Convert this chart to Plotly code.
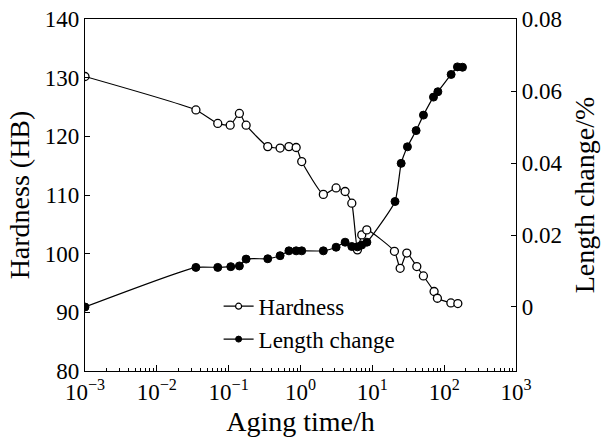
import plotly.graph_objects as go

# Hardness data (open circles)
hard_t = [0.001, 0.035, 0.0705, 0.105, 0.141, 0.175, 0.35, 0.52, 0.69, 0.87, 1.04,
          2.08, 3.13, 4.18, 5.18, 6.2, 7.13, 8.37, 20.3, 24.4, 30.2, 41.6, 51.4,
          72.4, 80.5, 124, 155]
hard_v = [130.2, 124.5, 122.2, 121.9, 123.9, 121.9, 118.25, 118.0, 118.25, 118.1, 115.7,
          110.1, 111.2, 110.6, 108.6, 100.65, 103.2, 104.05, 100.4, 97.5, 100.1, 97.8, 96.2,
          93.55, 92.4, 91.6, 91.5]

# Length change data (filled circles)
len_t = [0.001, 0.035, 0.0705, 0.107, 0.141, 0.175, 0.35, 0.52, 0.69, 0.87, 1.04,
         2.08, 3.13, 4.18, 5.18, 6.2, 7.1, 8.4, 20.7, 25.2, 30.8, 40.7, 51.5,
         71, 81.7, 125, 153, 180]
len_v = [0.0, 0.0110, 0.0110, 0.0112, 0.0114, 0.0133, 0.0134, 0.01425, 0.0156, 0.0156, 0.0156,
         0.0156, 0.0166, 0.0180, 0.0168, 0.0167, 0.0172, 0.0180, 0.0293, 0.0399, 0.0445, 0.0490, 0.0533,
         0.0583, 0.0598, 0.0646, 0.0667, 0.0666]

x_tickvals = [1e-3, 1e-2, 1e-1, 1e0, 1e1, 1e2, 1e3]
x_ticktext = ["10<sup>−3</sup>", "10<sup>−2</sup>", "10<sup>−1</sup>", "10<sup>0</sup>",
              "10<sup>1</sup>", "10<sup>2</sup>", "10<sup>3</sup>"]
minor_vals = [k * 10.0 ** n for n in range(-3, 3) for k in range(2, 10)]

FONT = "Liberation Serif, Times New Roman, serif"
FS = 23

fig = go.Figure()
fig.add_trace(go.Scatter(
    x=hard_t, y=hard_v, name="Hardness", mode="lines+markers", showlegend=False,
    line=dict(color="black", width=1.2, shape="spline", smoothing=0.5),
    marker=dict(symbol="circle", size=8, color="white", line=dict(color="black", width=1.3)),
))
fig.add_trace(go.Scatter(
    x=len_t, y=len_v, name="Length change", mode="lines+markers", yaxis="y2", showlegend=False,
    line=dict(color="black", width=1.2, shape="spline", smoothing=0.5),
    marker=dict(symbol="circle", size=8, color="black", line=dict(color="black", width=1)),
))
# legend entries (smaller symbols as in the reference)
fig.add_trace(go.Scatter(
    x=[None], y=[None], name="Hardness", mode="lines+markers",
    line=dict(color="black", width=1.2),
    marker=dict(symbol="circle", size=6, color="white", line=dict(color="black", width=1.2)),
))
fig.add_trace(go.Scatter(
    x=[None], y=[None], name="Length change", mode="lines+markers",
    line=dict(color="black", width=1.2),
    marker=dict(symbol="circle", size=6, color="black", line=dict(color="black", width=1)),
))

fig.update_layout(
    width=601, height=437,
    margin=dict(l=85, r=85, t=19, b=66, autoexpand=False),
    paper_bgcolor="white", plot_bgcolor="white",
    font=dict(family=FONT, size=FS, color="black"),
    showlegend=True,
    legend=dict(x=0.31, y=0.245, xanchor="left", yanchor="top",
                bgcolor="rgba(0,0,0,0)", font=dict(size=23),
                tracegroupgap=0, itemwidth=30),
    xaxis=dict(
        type="log", range=[-3, 3], automargin=False,
        tickmode="array", tickvals=x_tickvals, ticktext=x_ticktext,
        ticks="inside", ticklen=6, tickcolor="black", tickwidth=1,
        minor=dict(tickmode="array", tickvals=minor_vals, ticks="inside", ticklen=3,
                   tickcolor="black", tickwidth=1, showgrid=False),
        showline=True, linecolor="black", linewidth=1.3, mirror=True,
        showgrid=False, zeroline=False,
        title=dict(text="Aging time/h", standoff=10),
    ),
    yaxis=dict(
        range=[80, 140], tickvals=[80, 90, 100, 110, 120, 130, 140], automargin=False,
        ticks="inside", ticklen=5, tickcolor="black",
        showline=True, linecolor="black", linewidth=1.3,
        showgrid=False, zeroline=False,
        title=dict(text="Hardness (HB)", standoff=6),
    ),
    yaxis2=dict(
        overlaying="y", side="right", range=[-0.01778, 0.08], automargin=False,
        tickvals=[0, 0.02, 0.04, 0.06, 0.08], ticktext=["0", "0.02", "0.04", "0.06", "0.08"],
        ticks="inside", ticklen=5, tickcolor="black",
        showline=True, linecolor="black", linewidth=1.3,
        showgrid=False, zeroline=False,
        title=dict(text="Length change/%", standoff=12),
    ),
)

fig.write_html("out.html")
